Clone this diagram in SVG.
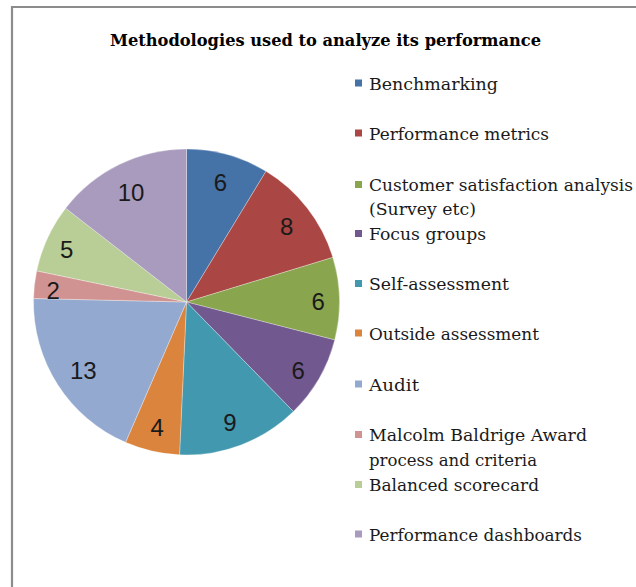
<svg xmlns="http://www.w3.org/2000/svg" width="636" height="587" viewBox="0 0 636 587">
<style>
.title{font-family:"DejaVu Serif","Liberation Serif",serif;font-weight:bold;font-size:16.5px;fill:#000}
.leg{font-family:"DejaVu Serif","Liberation Serif",serif;font-size:16.5px;fill:#1a1a1a}
.val{font-family:"Liberation Sans",Arial,sans-serif;font-size:24px;fill:#1a1a1a;text-anchor:middle}
.sl{stroke:#ffffff;stroke-width:0.5;stroke-opacity:0.6}
</style>
<rect width="636" height="587" fill="#ffffff"/>
<path d="M12 587 V7 H636" fill="none" stroke="#8c8c8c" stroke-width="2.2"/>
<text class="title" x="110" y="46" textLength="431" lengthAdjust="spacingAndGlyphs">Methodologies used to analyze its performance</text>
<g id="pie">
<g id="slice-benchmarking"><path class="sl" fill="#4572A7" d="M186.5 302 L186.5 149 A153 153 0 0 1 266.0 171.27 Z"/><text class="val" x="220.5" y="191">6</text></g>
<g id="slice-performance-metrics"><path class="sl" fill="#AA4643" d="M186.5 302 L266.0 171.27 A153 153 0 0 1 332.85 257.38 Z"/><text class="val" x="286.7" y="234.6">8</text></g>
<g id="slice-customer-satisfaction"><path class="sl" fill="#89A54E" d="M186.5 302 L332.85 257.38 A153 153 0 0 1 334.73 339.91 Z"/><text class="val" x="318.3" y="310.3">6</text></g>
<g id="slice-focus-groups"><path class="sl" fill="#71588F" d="M186.5 302 L334.73 339.91 A153 153 0 0 1 293.38 411.48 Z"/><text class="val" x="298.3" y="378.6">6</text></g>
<g id="slice-self-assessment"><path class="sl" fill="#4198AF" d="M186.5 302 L293.38 411.48 A153 153 0 0 1 179.54 454.84 Z"/><text class="val" x="230" y="431.3">9</text></g>
<g id="slice-outside-assessment"><path class="sl" fill="#DB843D" d="M186.5 302 L179.54 454.84 A153 153 0 0 1 125.54 442.33 Z"/><text class="val" x="157.3" y="436">4</text></g>
<g id="slice-audit"><path class="sl" fill="#93A9CF" d="M186.5 302 L125.54 442.33 A153 153 0 0 1 33.54 298.52 Z"/><text class="val" x="83.3" y="378.6">13</text></g>
<g id="slice-malcolm-baldrige"><path class="sl" fill="#D19392" d="M186.5 302 L33.54 298.52 A153 153 0 0 1 36.70 270.87 Z"/><text class="val" x="53.3" y="298.6">2</text></g>
<g id="slice-balanced-scorecard"><path class="sl" fill="#B9CD96" d="M186.5 302 L36.70 270.87 A153 153 0 0 1 65.62 208.20 Z"/><text class="val" x="66.7" y="257.6">5</text></g>
<g id="slice-performance-dashboards"><path class="sl" fill="#A99BBD" d="M186.5 302 L65.62 208.20 A153 153 0 0 1 186.5 149 Z"/><text class="val" x="131" y="201">10</text></g>
</g>
<g id="legend">
<g id="leg-benchmarking"><rect x="355" y="79.5" width="7" height="7" fill="#4572A7"/><text class="leg" x="369" y="89.5" textLength="129" lengthAdjust="spacingAndGlyphs">Benchmarking</text></g>
<g id="leg-performance-metrics"><rect x="355" y="129.5" width="7" height="7" fill="#AA4643"/><text class="leg" x="369" y="139.5" textLength="180" lengthAdjust="spacingAndGlyphs">Performance metrics</text></g>
<g id="leg-customer-satisfaction"><rect x="355" y="181" width="7" height="7" fill="#89A54E"/><text class="leg" x="369" y="191" textLength="264" lengthAdjust="spacingAndGlyphs">Customer satisfaction analysis</text><text class="leg" x="369" y="214.5" textLength="107" lengthAdjust="spacingAndGlyphs">(Survey etc)</text></g>
<g id="leg-focus-groups"><rect x="355" y="230" width="7" height="7" fill="#71588F"/><text class="leg" x="369" y="240" textLength="117" lengthAdjust="spacingAndGlyphs">Focus groups</text></g>
<g id="leg-self-assessment"><rect x="355" y="280" width="7" height="7" fill="#4198AF"/><text class="leg" x="369" y="290" textLength="140" lengthAdjust="spacingAndGlyphs">Self-assessment</text></g>
<g id="leg-outside-assessment"><rect x="355" y="329.5" width="7" height="7" fill="#DB843D"/><text class="leg" x="369" y="339.5" textLength="170" lengthAdjust="spacingAndGlyphs">Outside assessment</text></g>
<g id="leg-audit"><rect x="355" y="380.5" width="7" height="7" fill="#93A9CF"/><text class="leg" x="369" y="390.5" textLength="50" lengthAdjust="spacingAndGlyphs">Audit</text></g>
<g id="leg-malcolm-baldrige"><rect x="355" y="431" width="7" height="7" fill="#D19392"/><text class="leg" x="369" y="441" textLength="218" lengthAdjust="spacingAndGlyphs">Malcolm Baldrige Award</text><text class="leg" x="369" y="465.5" textLength="168" lengthAdjust="spacingAndGlyphs">process and criteria</text></g>
<g id="leg-balanced-scorecard"><rect x="355" y="481" width="7" height="7" fill="#B9CD96"/><text class="leg" x="369" y="491" textLength="170" lengthAdjust="spacingAndGlyphs">Balanced scorecard</text></g>
<g id="leg-performance-dashboards"><rect x="355" y="530.5" width="7" height="7" fill="#A99BBD"/><text class="leg" x="369" y="540.5" textLength="213" lengthAdjust="spacingAndGlyphs">Performance dashboards</text></g>
</g>
</svg>
